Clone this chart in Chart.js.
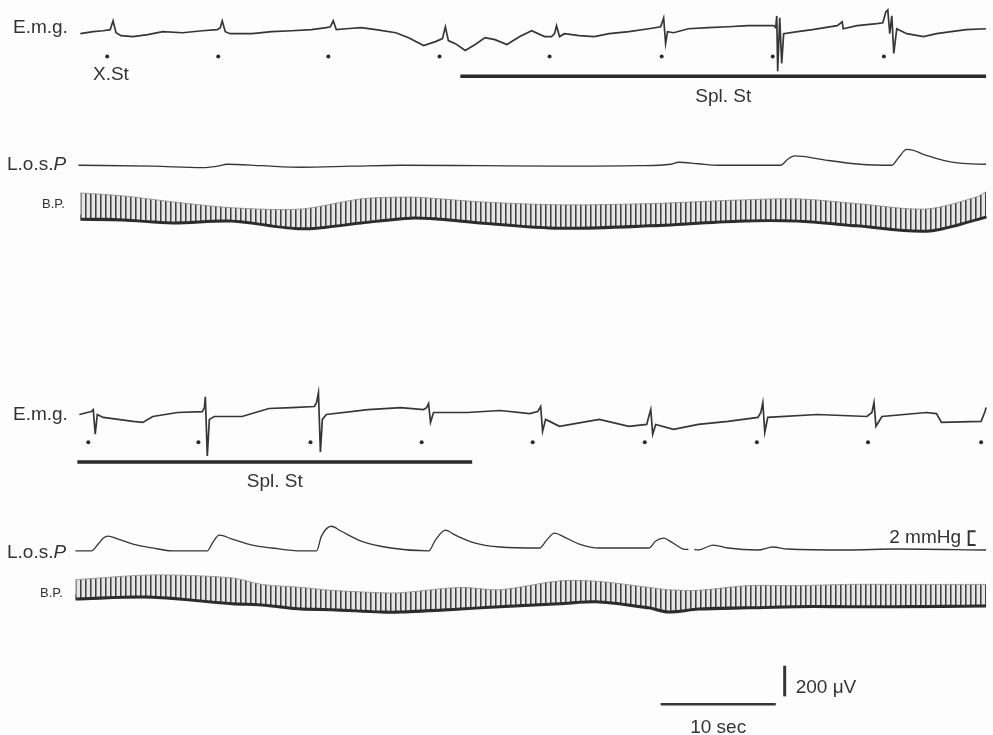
<!DOCTYPE html>
<html>
<head>
<meta charset="utf-8">
<script src="https://cdn.jsdelivr.net/npm/chart.js@4.4.1/dist/chart.umd.min.js"></script>
<style>
  html, body { margin: 0; padding: 0; background: #fdfdfd; }
  canvas { display: block; }
</style>
</head>
<body>
<canvas id="traceChart" width="993" height="735"></canvas>
<script>
// ---- upper record (X.St then Spl. St) ----
// e.m.g., seconds from start of sweep / microvolts from baseline
const emg1Sec = [0, 1.12, 1.98, 2.59, 2.84, 3.10, 3.53, 4.57, 5.86, 7.16,
  8.88, 10.60, 11.90, 12.16, 12.33, 12.59, 13.02, 14.91, 16.64, 18.36,
  20.09, 21.38, 21.72, 21.98, 22.24, 23.10, 24.40, 25.69, 27.41, 28.53,
  29.83, 30.86, 31.47, 31.72, 31.98, 32.59, 33.45, 34.31, 35.17, 36.03,
  37.07, 38.19, 39.22, 40.34, 40.95, 41.21, 41.38, 41.64, 42.07, 43.36,
  44.66, 45.95, 47.67, 49.40, 50.43, 50.69, 50.86, 51.03, 51.55, 52.84,
  54.57, 56.29, 58.02, 60.26, 60.43, 60.52, 60.60, 60.78, 60.95, 61.12,
  62.33, 63.62, 65.78, 66.21, 66.29, 67.50, 69.22, 69.74, 70.00, 70.17,
  70.34, 70.52, 70.69, 70.95, 71.81, 73.28, 74.40, 75.69, 76.98, 78.71];
const emg1Uv = [0, 13, 19, 26, 84, 6, -13, -19, -6, 13,
  6, 19, 26, 39, 84, 13, 0, 0, 13, 19,
  26, 39, 45, 84, 26, 32, 39, 26, 6, -26,
  -77, -52, -32, 45, -45, -65, -110, -71, -26, -39,
  -71, -19, 19, -19, -19, 0, 52, -19, 0, -13,
  -19, 0, 13, 32, 45, 103, -65, 13, 6, 32,
  39, 45, 52, 52, 39, 116, -245, 103, -194, 0,
  13, 26, 52, 77, 32, 52, 65, 71, 142, 155,
  0, 116, -129, 32, 0, -19, 0, 13, 26, 32];
const stim1Sec = [2.33, 11.98, 21.55, 31.21, 40.78, 50.52, 60.17, 69.83];
const spl1Sec = [33.02, 78.71];

// lower oesophageal sphincter pressure, mmHg above baseline
const los1Sec = [-0.17, 6.29, 10.60, 11.90, 12.76, 15.78, 19.22, 23.53, 27.84, 34.74,
  41.64, 48.53, 51.29, 51.98, 53.71, 55.43, 60.86, 61.47, 62.07, 62.76,
  64.91, 67.76, 70.52, 71.12, 71.81, 72.24, 73.53, 75.00, 76.38, 78.71];
const los1Mmhg = [0, -0.14, -0.36, -0.14, 0.14, -0.07, -0.29, -0.14, 0, -0.07,
  -0.14, -0.07, 0.14, 0.43, 0.21, 0, 0, 0.86, 1.36, 1.29,
  0.71, 0.14, 0, 1.14, 2.29, 2.21, 1.43, 0.71, 0.29, 0.14];

// blood pressure envelope (systolic tops / diastolic floor)
const bp1Sec = [0, 3.71, 8.02, 13.19, 19.22, 24.40, 28.71, 31.29, 34.74, 41.64,
  49.40, 57.16, 62.33, 67.50, 73.53, 77.84, 78.71];
const bp1Sys = [145, 140, 130, 120, 118, 135, 138, 135, 130, 125,
  127, 133, 135, 127, 118, 138, 147];
const bp1Dia = [103, 102, 97, 100, 87, 97, 105, 103, 97, 88,
  92, 100, 100, 92, 83, 102, 107];

// ---- lower record (Spl. St then off) ----
const emg2Sec = [-0.09, 0.60, 0.95, 1.12, 1.29, 1.47, 1.98, 3.28, 4.57, 5.43,
  6.29, 8.45, 10.60, 10.78, 10.86, 11.03, 11.21, 11.64, 14.05, 16.38,
  18.36, 20.34, 20.52, 20.69, 20.86, 21.03, 21.38, 25.00, 27.84, 29.83,
  30.09, 30.26, 30.43, 30.69, 33.62, 36.47, 39.05, 39.74, 40.00, 40.17,
  40.43, 40.78, 41.64, 45.09, 47.67, 49.22, 49.40, 49.57, 49.74, 50.00,
  51.55, 53.71, 56.29, 58.88, 59.14, 59.31, 59.48, 59.74, 64.05, 68.36,
  68.79, 68.97, 69.14, 69.66, 73.53, 74.40, 74.83, 78.28, 78.62, 78.71];
const emg2Uv = [0, 13, 19, 32, -129, 0, -19, -32, -45, -52,
  -13, 13, 19, 45, 116, -271, -32, -13, -13, 39,
  45, 52, 77, 142, -245, -32, 0, 32, 45, 32,
  45, 71, -52, 13, 13, 26, 6, 19, 52, -110,
  -32, -45, -77, -32, -77, -65, -13, 32, -129, -65,
  -97, -65, -45, -19, 13, 77, -116, -19, 0, -13,
  13, 77, -77, -13, 13, 6, -52, -45, 19, 45];
const stim2Sec = [0.69, 10.26, 20.00, 29.66, 39.31, 49.05, 58.79, 68.45, 78.28];
const spl2Sec = [-0.26, 34.05];

const los2Sec = [-0.43, 0.95, 1.55, 1.98, 2.41, 3.28, 4.57, 6.29, 8.02, 11.03,
  11.47, 12.07, 13.19, 14.91, 16.64, 19.22, 20.52, 20.95, 21.81, 22.67,
  24.40, 26.98, 30.26, 30.86, 31.72, 32.59, 34.31, 36.47, 39.91, 40.52,
  41.21, 42.07, 43.36, 45.09, 49.40, 50.00, 50.69, 51.38, 52.41, 52.84,
  53.02, 53.36, 53.71, 55.00, 56.29, 58.88, 60.17, 61.47, 66.64, 70.95,
  78.71];
const los2Mmhg = [-0.14, -0.14, 0.86, 1.71, 2.0, 1.57, 0.86, 0.29, -0.14, -0.14,
  1.0, 2.14, 1.57, 0.71, 0.29, -0.14, -0.14, 2.0, 3.43, 2.71,
  1.29, 0.29, -0.14, 1.43, 2.86, 2.14, 1.0, 0.43, 0.29, 1.43,
  2.43, 1.86, 0.86, 0.29, 0.29, 1.29, 1.71, 1.14, 0.14, 0.07,
  null, 0.07, 0, 0.71, 0.29, 0, 0.43, 0.14, 0, 0.14,
  0];

const bp2Sec = [-0.43, 6.29, 13.19, 15.78, 19.22, 21.81, 26.12, 27.84, 33.02, 36.47,
  41.64, 45.09, 49.40, 51.12, 53.71, 58.02, 62.33, 66.64, 70.95, 78.71];
const bp2Sys = [140, 148, 143, 132, 127, 122, 118, 118, 127, 123,
  138, 137, 127, 123, 122, 130, 130, 132, 132, 132];
const bp2Dia = [110, 113, 102, 100, 93, 92, 88, 88, 93, 97,
  102, 105, 95, 88, 93, 95, 97, 97, 97, 98];

// calibration
const calUv = 200;
const calSec = 10;
const calMmhg = 2;

// ---- layout ----
const W = 993, H = 735;
const PX_PER_SEC = 11.6;      // 10 sec bar = 116 px
const X0 = 77;                // sweep start on the page
const UV_PX = 31 / 200;       // px per microvolt
const MMHG_PX = 7;            // px per mmHg (L.o.s.P)
const BP_PX = 0.6;            // px per mmHg (B.P.)
const INK = '#363636';

// vertical axis whose zero sits at zeroPx and which spans the whole canvas
function axis(zeroPx, pxPerUnit) {
  return { display: false, min: (zeroPx - H) / pxPerUnit, max: zeroPx / pxPerUnit };
}
function xy(xs, ys) {
  return xs.map((x, i) => ({ x: x, y: ys[i] }));
}
function level(xs, v) {
  return xs.map(x => ({ x: x, y: v }));
}

// vertical hatching for the pulse-pressure band
const stripe = document.createElement('canvas');
stripe.width = 5; stripe.height = 4;
const sctx = stripe.getContext('2d');
sctx.fillStyle = '#e6e6e6'; sctx.fillRect(0, 0, 5, 4);
sctx.fillStyle = '#404040'; sctx.fillRect(0, 0, 1, 4);
sctx.fillStyle = '#8c8c8c'; sctx.fillRect(1, 0, 1, 4);
const hatch = sctx.createPattern(stripe, 'repeat');

function trace(data, axisId, width, extra) {
  return Object.assign({
    data: data, yAxisID: axisId, borderColor: INK, borderWidth: width,
    pointRadius: 0, tension: 0, fill: false, spanGaps: false
  }, extra || {});
}
function dots(xs, axisId) {
  return {
    data: level(xs, 1), yAxisID: axisId, showLine: false,
    pointRadius: 2, pointBackgroundColor: '#2a2a2a', pointBorderWidth: 0
  };
}
function bpBand(xs, sys, dia, axisId) {
  return [
    trace(xy(xs, sys), axisId, 0.8, { borderColor: '#8a8a8a', fill: '+1', backgroundColor: hatch, tension: 0.3 }),
    trace(xy(xs, dia), axisId, 6, { borderColor: '#2c2c2c', tension: 0.3 })
  ];
}

const smooth = { cubicInterpolationMode: 'monotone' };
const datasets = [
  trace(xy(emg1Sec, emg1Uv), 'emg1', 1.7),
  dots(stim1Sec, 'ev1'),
  trace(level(spl1Sec, 0), 'ev1', 3.5, { borderColor: '#2a2a2a' }),
  trace(xy(los1Sec, los1Mmhg), 'los1', 1.3, smooth),
  ...bpBand(bp1Sec, bp1Sys, bp1Dia, 'bp1'),

  trace(xy(emg2Sec, emg2Uv), 'emg2', 1.7),
  dots(stim2Sec, 'ev2'),
  trace(level(spl2Sec, 0), 'ev2', 3.5, { borderColor: '#2a2a2a' }),
  trace(xy(los2Sec, los2Mmhg), 'los2', 1.3, smooth),
  ...bpBand(bp2Sec, bp2Sys, bp2Dia, 'bp2'),

  // 200 uV bar, 10 sec bar, 2 mmHg bracket
  trace([{ x: 61.21, y: 0 }, { x: 61.21, y: calUv }], 'cal', 3, { borderCapStyle: 'butt' }),
  trace([{ x: 50.43, y: -52 }, { x: 50.43 + calSec, y: -52 }], 'cal', 2.5),
  trace([{ x: 77.8, y: 0.71 }, { x: 77.2, y: 0.71 }, { x: 77.2, y: 0.71 + calMmhg }, { x: 77.8, y: 0.71 + calMmhg }], 'los2', 2)
];

const FONT = '"Liberation Sans", Arial, sans-serif';
const labels = {
  id: 'labels',
  beforeDraw(chart) {
    const c = chart.ctx;
    c.save();
    c.fillStyle = '#fdfdfd';
    c.fillRect(0, 0, chart.width, chart.height);
    c.restore();
  },
  afterDraw(chart) {
    const c = chart.ctx;
    const xs = chart.scales.x;
    c.save();
    c.fillStyle = '#333';
    c.textBaseline = 'alphabetic';

    function text(s, x, y, size, align, style) {
      c.font = (style || '') + ' ' + size + 'px ' + FONT;
      c.textAlign = align || 'left';
      c.fillText(s, x, y);
    }
    function los(x, y) {
      c.font = '19px ' + FONT;
      c.textAlign = 'left';
      c.fillText('L.o.s.', x, y);
      const w = c.measureText('L.o.s.').width;
      c.font = 'italic 19px ' + FONT;
      c.fillText('P', x + w, y);
    }

    text('E.m.g.', 13, 33, 19);
    text('X.St', 93, 80, 19);
    text('Spl. St', (xs.getPixelForValue(spl1Sec[0]) + xs.getPixelForValue(spl1Sec[1])) / 2, 102, 19, 'center');
    los(7, 170);
    text('B.P.', 42, 208, 13);

    text('E.m.g.', 13, 420, 19);
    text('Spl. St', (xs.getPixelForValue(spl2Sec[0]) + xs.getPixelForValue(spl2Sec[1])) / 2, 487, 19, 'center');
    los(7, 558);
    text('B.P.', 40, 597, 13);

    text(calMmhg + ' mmHg', 961, 543, 19, 'right');
    text(calUv + ' \u03bcV', xs.getPixelForValue(61.21) + 11, 693, 19);
    text(calSec + ' sec', xs.getPixelForValue(50.43 + calSec / 2), 733, 19, 'center');
    c.restore();
  }
};

new Chart(document.getElementById('traceChart'), {
  type: 'line',
  data: { datasets: datasets },
  options: {
    responsive: false,
    animation: false,
    layout: { padding: 0 },
    plugins: { legend: { display: false }, tooltip: { enabled: false } },
    scales: {
      x: { type: 'linear', display: false, min: -X0 / PX_PER_SEC, max: (W - X0) / PX_PER_SEC },
      emg1: axis(30, UV_PX),
      ev1: axis(73, 20),
      los1: axis(163, MMHG_PX),
      bp1: axis(278, BP_PX),
      emg2: axis(415, UV_PX),
      ev2: axis(463, 20),
      los2: axis(552, MMHG_PX),
      bp2: axis(666, BP_PX),
      cal: axis(700, UV_PX)
    }
  },
  plugins: [labels]
});
</script>
</body>
</html>
